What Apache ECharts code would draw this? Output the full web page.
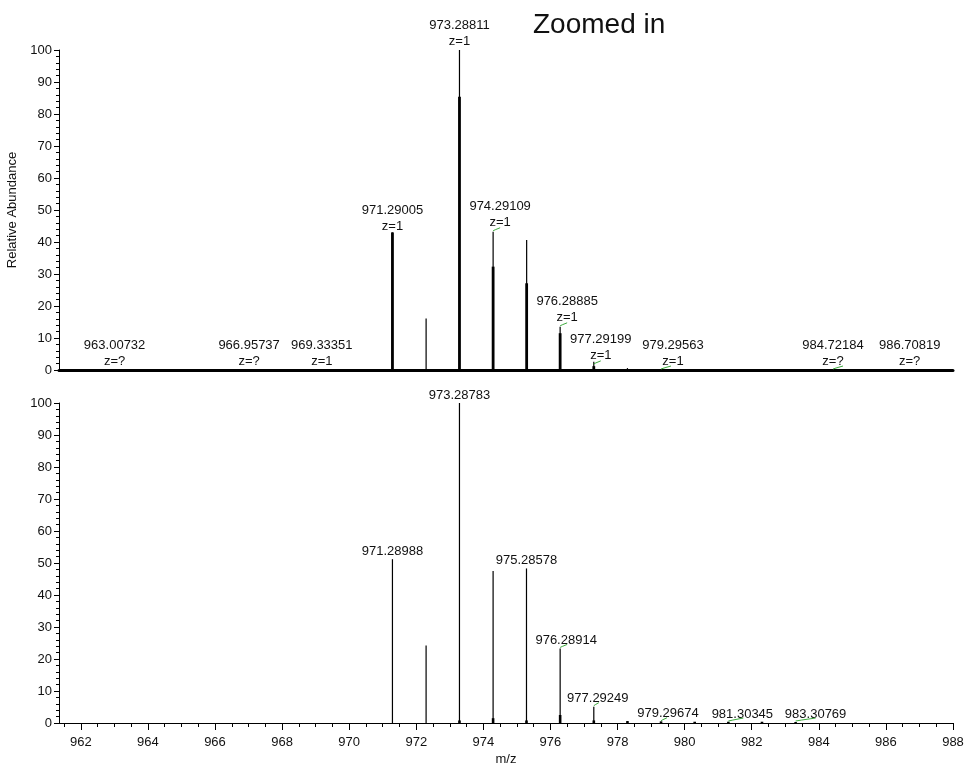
<!DOCTYPE html>
<html>
<head>
<meta charset="utf-8">
<script src="https://cdn.jsdelivr.net/npm/echarts@6/dist/echarts.min.js"></script>
<style>
html,body{margin:0;padding:0;background:#fff;}
#chart{width:964px;height:767px;}
</style>
</head>
<body>
<div id="chart"></div>
<script>
// ---------------- DATA ----------------
var titleText = 'Zoomed in';
var yAxisName = 'Relative Abundance';
var xAxisName = 'm/z';
var xMin = 961.35, xMax = 988;
var xMajorTicks = [962, 964, 966, 968, 970, 972, 974, 976, 978, 980, 982, 984, 986, 988];

// top panel (profile-like): full peak height and thick lower part
var topMz     = [971.29005, 972.2935, 973.28811, 974.29109, 975.2905, 976.28885, 977.29199, 978.2950, 979.29563];
var topAbund  = [43.0, 16.1, 100, 43.2, 40.6, 13.5, 2.6, 0.6, 0.3];
var topThick  = [43.0, 0, 85.4, 32.3, 27.1, 11.5, 1.2, 0, 0];

var topLabelMz    = [963.00732, 966.95737, 969.33351, 971.29005, 973.28811, 974.29109, 976.28885, 977.29199, 979.29563, 984.72184, 986.70819];
var topLabelText  = ['963.00732', '966.95737', '969.33351', '971.29005', '973.28811', '974.29109', '976.28885', '977.29199', '979.29563', '984.72184', '986.70819'];
var topLabelZ     = ['z=?', 'z=?', 'z=1', 'z=1', 'z=1', 'z=1', 'z=1', 'z=1', 'z=1', 'z=?', 'z=?'];
var topLabelAbund = [0, 0, 0, 42.0, 100, 43.2, 13.5, 1.6, 0, 0, 0];

// bottom panel (centroid sticks)
var botMz    = [971.28988, 972.2930, 973.28783, 974.2905, 975.28578, 976.28914, 977.29249, 978.2955, 979.29674, 980.3000, 981.30345, 982.3060, 983.30769];
var botAbund = [51.2, 24.2, 100, 47.5, 48.3, 23.3, 5.1, 0.6, 0.4, 0.3, 0.3, 0.3, 0.3];
var botBase  = [0, 0, 0.8, 1.5, 0.8, 2.5, 0.8, 0.6, 0.5, 0.4, 0.4, 0.4, 0.3];

var botLabelMz    = [971.28988, 973.28783, 975.28578, 976.28914, 977.29249, 979.29674, 981.30345, 983.30769];
var botLabelText  = ['971.28988', '973.28783', '975.28578', '976.28914', '977.29249', '979.29674', '981.30345', '983.30769'];
var botLabelAbund = [51.2, 100, 48.3, 23.3, 5.1, 0.4, 0.3, 0.3];

// ---------------- STYLE ----------------
var FONT = '"Liberation Sans", Arial, sans-serif';
var GREEN = '#3daa3d';
var topLabelDx = [0, 2, -5, 0, 0, 7, 7, 7, 12, -10, 0];
var botLabelDx = [0, 0, 0, 6, 4, 7, 14, 20];
var topGreen = {5: 7, 6: 7, 7: 7, 8: 10, 9: -10};      // label index -> green mark width (px)
var botGreen = {3: 7, 4: 5, 5: 6, 6: 15, 7: 20};

var xMinorTicks = [];
for (var t = 961.5; t <= 988.0001; t += 0.5) { xMinorTicks.push(+t.toFixed(1)); }

function pairs(a, b) { return a.map(function (v, i) { return [v, b[i]]; }); }

function stickRenderer(width) {
  return function (params, api) {
    var h = api.value(1);
    if (!(h > 0)) return null;
    var p0 = api.coord([api.value(0), 0]);
    var p1 = api.coord([api.value(0), h]);
    return {
      type: 'line',
      shape: { x1: p0[0], y1: p0[1], x2: p1[0], y2: p1[1] },
      style: { stroke: '#000', lineWidth: width }
    };
  };
}

function greenMark(x, y, w) {
  var x2 = x + w;
  return {
    type: 'polyline',
    shape: { points: [[x, y + 1], [x + w * 0.3, y], [x2, y - 2]] },
    style: { stroke: GREEN, lineWidth: 1, fill: null }
  };
}

function topLabelRenderer(params, api) {
  var i = params.dataIndex;
  var p = api.coord([api.value(0), api.value(1)]);
  var x = p[0] + topLabelDx[i];
  var kids = [
    { type: 'text', x: x, y: p[1] - 25, style: { text: topLabelText[i], font: '13px ' + FONT, fill: '#111', align: 'center', verticalAlign: 'middle' } },
    { type: 'text', x: x, y: p[1] - 9, style: { text: topLabelZ[i], font: '13px ' + FONT, fill: '#111', align: 'center', verticalAlign: 'middle' } }
  ];
  if (topGreen[i] !== undefined) {
    var w = topGreen[i];
    kids.push(greenMark(w > 0 ? p[0] : p[0] + w, p[1] - 2, Math.abs(w)));
  }
  return { type: 'group', children: kids };
}

function botLabelRenderer(params, api) {
  var i = params.dataIndex;
  var p = api.coord([api.value(0), api.value(1)]);
  var x = p[0] + botLabelDx[i];
  var kids = [
    { type: 'text', x: x, y: p[1] - 8, style: { text: botLabelText[i], font: '13px ' + FONT, fill: '#111', align: 'center', verticalAlign: 'middle' } }
  ];
  if (botGreen[i] !== undefined) {
    kids.push(greenMark(p[0], p[1] - 2, botGreen[i]));
  }
  return { type: 'group', children: kids };
}

function yAxisCfg(gridIndex, withName) {
  return {
    type: 'value', gridIndex: gridIndex, min: 0, max: 100, interval: 10,
    name: withName ? yAxisName : '',
    nameLocation: 'middle', nameGap: 32, nameRotate: 90,
    nameTextStyle: { fontFamily: FONT, fontSize: 13, color: '#111' },
    axisLine: { show: true, lineStyle: { color: '#000', width: 1 } },
    axisTick: { show: true, length: 5, lineStyle: { color: '#000' } },
    minorTick: { show: true, splitNumber: 5, length: 3, lineStyle: { color: '#000' } },
    splitLine: { show: false },
    minorSplitLine: { show: false },
    axisLabel: { fontFamily: FONT, fontSize: 13, color: '#111', margin: 7 }
  };
}

var chart = echarts.init(document.getElementById('chart'), null, { renderer: 'canvas' });
chart.setOption({
  animation: false,
  backgroundColor: '#fff',
  graphic: [{
    type: 'text', left: 533, top: 11,
    style: { text: titleText, font: '28px ' + FONT, fill: '#111' }
  }],
  grid: [
    { left: 59, right: 11, top: 50, height: 320, outerBoundsMode: 'none', containLabel: false },
    { left: 59, right: 11, top: 403, height: 320, outerBoundsMode: 'none', containLabel: false }
  ],
  xAxis: [
    { type: 'value', gridIndex: 0, min: xMin, max: xMax,
      axisLine: { show: true, onZero: false, lineStyle: { color: '#000', width: 3 } },
      axisTick: { show: false }, axisLabel: { show: false }, splitLine: { show: false } },
    { type: 'value', gridIndex: 1, min: xMin, max: xMax,
      name: xAxisName, nameLocation: 'middle', nameGap: 30,
      nameTextStyle: { fontFamily: FONT, fontSize: 13, color: '#111' },
      axisLine: { show: true, onZero: false, lineStyle: { color: '#000', width: 1 } },
      axisTick: { show: true, length: 4, customValues: xMinorTicks, lineStyle: { color: '#000' } },
      axisLabel: { show: true, customValues: xMajorTicks, fontFamily: FONT, fontSize: 13, color: '#111', margin: 13,
                   formatter: function (v) { return String(Math.round(v)); } },
      splitLine: { show: false } },
    { type: 'value', gridIndex: 1, min: xMin, max: xMax, position: 'bottom',
      axisLine: { show: false, onZero: false },
      axisTick: { show: true, length: 7, customValues: xMajorTicks, lineStyle: { color: '#000' } },
      axisLabel: { show: false }, splitLine: { show: false } }
  ],
  yAxis: [yAxisCfg(0, true), yAxisCfg(1, false)],
  series: [
    { type: 'custom', xAxisIndex: 0, yAxisIndex: 0, renderItem: stickRenderer(1.2), data: pairs(topMz, topAbund), clip: false },
    { type: 'custom', xAxisIndex: 0, yAxisIndex: 0, renderItem: stickRenderer(2.8), data: pairs(topMz, topThick), clip: false },
    { type: 'custom', xAxisIndex: 0, yAxisIndex: 0, renderItem: topLabelRenderer, data: pairs(topLabelMz, topLabelAbund), clip: false },
    { type: 'custom', xAxisIndex: 1, yAxisIndex: 1, renderItem: stickRenderer(1.2), data: pairs(botMz, botAbund), clip: false },
    { type: 'custom', xAxisIndex: 1, yAxisIndex: 1, renderItem: stickRenderer(2.6), data: pairs(botMz, botBase), clip: false },
    { type: 'custom', xAxisIndex: 1, yAxisIndex: 1, renderItem: botLabelRenderer, data: pairs(botLabelMz, botLabelAbund), clip: false }
  ]
});
</script>
</body>
</html>
